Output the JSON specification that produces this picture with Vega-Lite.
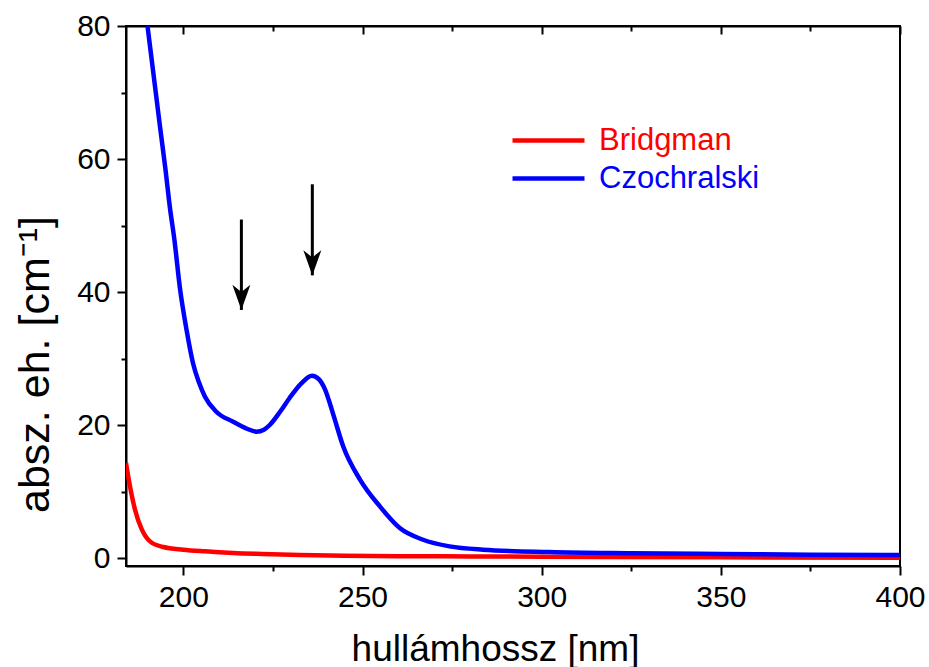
{
  "$schema": "https://vega.github.io/schema/vega-lite/v6.json",
  "width": 774,
  "height": 540,
  "autosize": "none",
  "padding": {"left": 126, "top": 26, "right": 29, "bottom": 101},
  "background": "white",
  "config": {
    "font": "Liberation Sans",
    "view": {"stroke": "black", "strokeWidth": 2},
    "axis": {
      "grid": false,
      "domainColor": "black",
      "domainWidth": 2,
      "tickColor": "black",
      "tickWidth": 2,
      "labelColor": "black",
      "labelFont": "Liberation Sans",
      "labelFontSize": 30,
      "titleFont": "Liberation Sans",
      "titleFontWeight": "normal",
      "titleColor": "black"
    }
  },
  "datasets": {
    "spectra": [
      {"wavelength": 184.0, "absorption": 14.3, "sample": "Bridgman"},
      {"wavelength": 185.1, "absorption": 10.8, "sample": "Bridgman"},
      {"wavelength": 186.5, "absorption": 7.3, "sample": "Bridgman"},
      {"wavelength": 188.4, "absorption": 4.3, "sample": "Bridgman"},
      {"wavelength": 190.7, "absorption": 2.5, "sample": "Bridgman"},
      {"wavelength": 194.4, "absorption": 1.65, "sample": "Bridgman"},
      {"wavelength": 200.0, "absorption": 1.25, "sample": "Bridgman"},
      {"wavelength": 206.0, "absorption": 1.0, "sample": "Bridgman"},
      {"wavelength": 213.9, "absorption": 0.75, "sample": "Bridgman"},
      {"wavelength": 222.0, "absorption": 0.6, "sample": "Bridgman"},
      {"wavelength": 232.5, "absorption": 0.45, "sample": "Bridgman"},
      {"wavelength": 245.0, "absorption": 0.35, "sample": "Bridgman"},
      {"wavelength": 260.0, "absorption": 0.28, "sample": "Bridgman"},
      {"wavelength": 280.0, "absorption": 0.24, "sample": "Bridgman"},
      {"wavelength": 300.0, "absorption": 0.2, "sample": "Bridgman"},
      {"wavelength": 350.0, "absorption": 0.1, "sample": "Bridgman"},
      {"wavelength": 400.0, "absorption": 0.05, "sample": "Bridgman"},

      {"wavelength": 190.0, "absorption": 80.0, "sample": "Czochralski"},
      {"wavelength": 191.5, "absorption": 73.5, "sample": "Czochralski"},
      {"wavelength": 193.6, "absorption": 64.4, "sample": "Czochralski"},
      {"wavelength": 195.0, "absorption": 58.5, "sample": "Czochralski"},
      {"wavelength": 196.3, "absorption": 52.5, "sample": "Czochralski"},
      {"wavelength": 197.5, "absorption": 47.9, "sample": "Czochralski"},
      {"wavelength": 199.0, "absorption": 40.8, "sample": "Czochralski"},
      {"wavelength": 200.9, "absorption": 34.3, "sample": "Czochralski"},
      {"wavelength": 202.7, "absorption": 29.3, "sample": "Czochralski"},
      {"wavelength": 204.3, "absorption": 26.5, "sample": "Czochralski"},
      {"wavelength": 206.0, "absorption": 24.3, "sample": "Czochralski"},
      {"wavelength": 209.2, "absorption": 22.0, "sample": "Czochralski"},
      {"wavelength": 213.9, "absorption": 20.5, "sample": "Czochralski"},
      {"wavelength": 217.5, "absorption": 19.5, "sample": "Czochralski"},
      {"wavelength": 220.4, "absorption": 19.0, "sample": "Czochralski"},
      {"wavelength": 222.5, "absorption": 19.3, "sample": "Czochralski"},
      {"wavelength": 224.1, "absorption": 20.0, "sample": "Czochralski"},
      {"wavelength": 227.0, "absorption": 22.0, "sample": "Czochralski"},
      {"wavelength": 229.7, "absorption": 24.1, "sample": "Czochralski"},
      {"wavelength": 233.0, "absorption": 26.3, "sample": "Czochralski"},
      {"wavelength": 235.9, "absorption": 27.4, "sample": "Czochralski"},
      {"wavelength": 237.8, "absorption": 26.9, "sample": "Czochralski"},
      {"wavelength": 239.5, "absorption": 25.4, "sample": "Czochralski"},
      {"wavelength": 242.0, "absorption": 21.3, "sample": "Czochralski"},
      {"wavelength": 244.6, "absorption": 16.8, "sample": "Czochralski"},
      {"wavelength": 249.3, "absorption": 11.8, "sample": "Czochralski"},
      {"wavelength": 254.8, "absorption": 7.8, "sample": "Czochralski"},
      {"wavelength": 260.4, "absorption": 4.5, "sample": "Czochralski"},
      {"wavelength": 266.9, "absorption": 2.75, "sample": "Czochralski"},
      {"wavelength": 274.3, "absorption": 1.75, "sample": "Czochralski"},
      {"wavelength": 283.6, "absorption": 1.25, "sample": "Czochralski"},
      {"wavelength": 302.1, "absorption": 0.9, "sample": "Czochralski"},
      {"wavelength": 325.0, "absorption": 0.72, "sample": "Czochralski"},
      {"wavelength": 350.0, "absorption": 0.6, "sample": "Czochralski"},
      {"wavelength": 375.0, "absorption": 0.5, "sample": "Czochralski"},
      {"wavelength": 400.0, "absorption": 0.45, "sample": "Czochralski"}
    ],
    "arrows": [
      {"wavelength": 216.2, "from": 50.9, "to": 37.3},
      {"wavelength": 236.0, "from": 56.2, "to": 42.5}
    ]
  },
  "layer": [
    {
      "data": {"name": "spectra"},
      "mark": {"type": "line", "strokeWidth": 4.5, "interpolate": "monotone", "clip": true},
      "encoding": {
        "x": {
          "field": "wavelength",
          "type": "quantitative",
          "scale": {"domain": [184, 400], "nice": false, "zero": false},
          "axis": {
            "orient": "bottom",
            "title": "hullámhossz [nm]",
            "titleFontSize": 37,
            "titleX": 369,
            "titleY": 94,
            "titleBaseline": "alphabetic",
            "values": [200, 225, 250, 275, 300, 325, 350, 375, 400],
            "labelExpr": "datum.value % 50 === 0 ? datum.label : ''",
            "format": "d",
            "tickSize": {"condition": {"test": "datum.value % 50 === 0", "value": 9}, "value": 5},
            "labelPadding": 7,
            "labelFlush": false,
            "labelOverlap": false
          }
        },
        "y": {
          "field": "absorption",
          "type": "quantitative",
          "scale": {"domain": [-1.2, 80], "nice": false, "zero": false},
          "axis": {
            "orient": "left",
            "title": "absz. eh. [cm⁻¹]",
            "titleFontSize": 43,
            "titleAngle": -90,
            "titleAlign": "center",
            "titleBaseline": "alphabetic",
            "titleX": -78,
            "titleY": 338,
            "values": [0, 10, 20, 30, 40, 50, 60, 70, 80],
            "labelExpr": "datum.value % 20 === 0 ? datum.label : ''",
            "format": "d",
            "tickSize": {"condition": {"test": "datum.value % 20 === 0", "value": 9}, "value": 5},
            "labelPadding": 7,
            "labelFlush": false,
            "labelOverlap": false
          }
        },
        "color": {
          "field": "sample",
          "type": "nominal",
          "scale": {"domain": ["Bridgman", "Czochralski"], "range": ["#ff0000", "#0000ff"]},
          "legend": {
            "orient": "none",
            "legendX": 402,
            "legendY": 94,
            "title": null,
            "padding": 0,
            "symbolType": "M-2,0L2,0",
            "symbolSize": 1296,
            "symbolStrokeWidth": 4.5,
            "symbolFillColor": "transparent",
            "labelFontSize": 31,
            "labelFont": "Liberation Sans",
            "labelOffset": 30,
            "labelLimit": 400,
            "rowPadding": 2,
            "encode": {
              "labels": {"update": {"fill": {"signal": "scale('color', datum.value)"}}}
            }
          }
        }
      }
    },
    {
      "data": {"name": "arrows"},
      "mark": {"type": "rule", "strokeWidth": 3, "color": "black"},
      "encoding": {
        "x": {
          "field": "wavelength",
          "type": "quantitative",
          "axis": {
            "orient": "top",
            "title": null,
            "labels": false,
            "domain": true,
            "values": [200, 225, 250, 275, 300, 325, 350, 375, 400],
            "tickSize": {"condition": {"test": "datum.value % 50 === 0", "value": -8}, "value": -5}
          }
        },
        "y": {"field": "from", "type": "quantitative", "axis": null},
        "y2": {"field": "to"}
      }
    },
    {
      "data": {"name": "arrows"},
      "mark": {
        "type": "point",
        "shape": "M0,0L-0.5,-1.4L0,-1L0.5,-1.4Z",
        "size": 1296,
        "filled": true,
        "color": "black",
        "opacity": 1,
        "strokeWidth": 0
      },
      "encoding": {
        "x": {"field": "wavelength", "type": "quantitative", "axis": null},
        "y": {"field": "to", "type": "quantitative", "axis": null}
      }
    }
  ],
  "resolve": {"axis": {"x": "independent", "y": "independent"}}
}
